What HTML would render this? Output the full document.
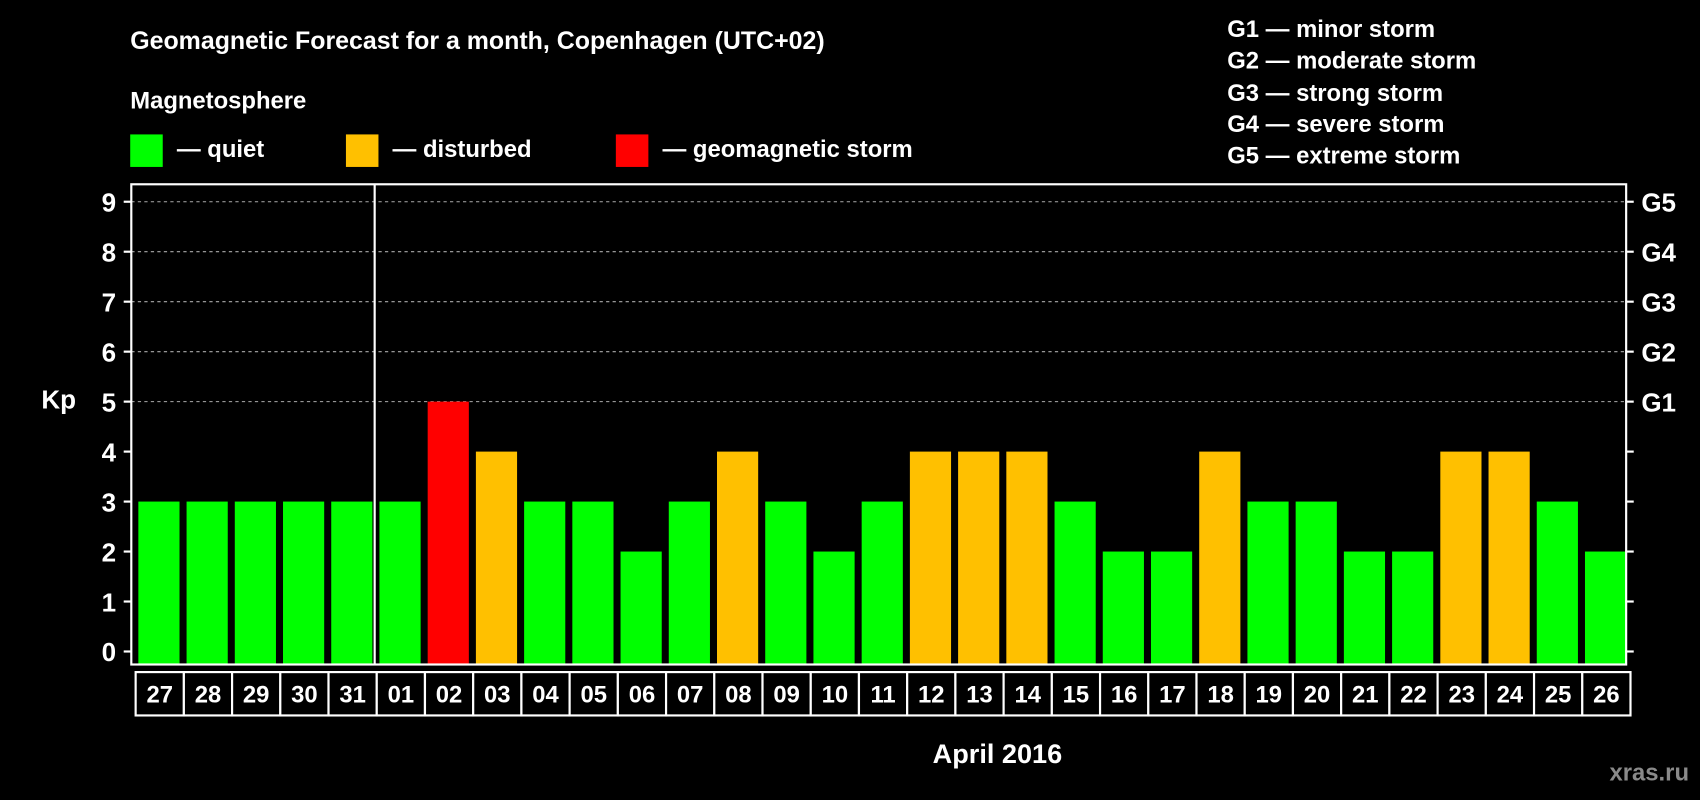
<!DOCTYPE html>
<html><head><meta charset="utf-8"><style>
html,body{margin:0;padding:0;background:#000;width:1700px;height:800px;overflow:hidden}
svg text{font-family:"Liberation Sans",sans-serif;font-weight:bold;fill:#fff}
</style></head><body>
<svg width="1700" height="800" viewBox="0 0 1568 738" xmlns="http://www.w3.org/2000/svg">
<rect width="1568" height="738" fill="#000"/>
<text x="120" y="45" font-size="23">Geomagnetic Forecast for a month, Copenhagen (UTC+02)</text>
<text x="120" y="100" font-size="22">Magnetosphere</text>
<g>
<rect x="120" y="124" width="30" height="30" fill="#00ff00"/>
<text x="163" y="145" font-size="22">— quiet</text>
<rect x="319" y="124" width="30" height="30" fill="#ffc000"/>
<text x="362" y="145" font-size="22">— disturbed</text>
<rect x="568" y="124" width="30" height="30" fill="#ff0000"/>
<text x="611" y="145" font-size="22">— geomagnetic storm</text>
</g>
<g font-size="22">
<text x="1132" y="34">G1 — minor storm</text>
<text x="1132" y="63">G2 — moderate storm</text>
<text x="1132" y="93">G3 — strong storm</text>
<text x="1132" y="122">G4 — severe storm</text>
<text x="1132" y="151">G5 — extreme storm</text>
</g>
<text x="38" y="377" font-size="24">Kp</text>
<text x="920" y="704" font-size="25" text-anchor="middle">April 2016</text>
<text x="1558" y="720" font-size="22" text-anchor="end" fill="#888" style="fill:#8a8a8a">xras.ru</text>
<g id="grid"></g>
<g id="bars"></g>
<g id="labels"></g>
<rect x="121" y="170" width="1379" height="443" fill="none" stroke="#fff" stroke-width="2"/>
<line x1="345.5" y1="170" x2="345.5" y2="613" stroke="#fff" stroke-width="2"/>
</svg>
<script>
const days=["27","28","29","30","31","01","02","03","04","05","06","07","08","09","10","11","12","13","14","15","16","17","18","19","20","21","22","23","24","25","26"];
const kp=[3,3,3,3,3,3,5,4,3,3,2,3,4,3,2,3,4,4,4,3,2,2,4,3,3,2,2,4,4,3,2];
const yTicks=[0,1,2,3,4,5,6,7,8,9];
const gLabels=["G1","G2","G3","G4","G5"];
const NS="http://www.w3.org/2000/svg";
const X0=121,X1=1500,slot=(X1-X0)/days.length;
const y=v=>601-v*46.1;
const x=i=>X0+i*slot;
function mk(t,a,p){const e=document.createElementNS(NS,t);for(const k in a)e.setAttribute(k,a[k]);p.appendChild(e);return e;}
const grid=document.getElementById('grid'),bars=document.getElementById('bars'),labels=document.getElementById('labels');
yTicks.forEach(v=>{
 if(v>=5){const l=mk('line',{x1:X0,x2:X1,y1:y(v),y2:y(v),stroke:'#aaa','stroke-dasharray':'3,3','stroke-width':1},grid);
 
 }
 mk('line',{x1:X0-7,x2:X0,y1:y(v),y2:y(v),stroke:'#fff','stroke-width':2},grid);
 mk('line',{x1:X1,x2:X1+7,y1:y(v),y2:y(v),stroke:'#fff','stroke-width':2},grid);
 const t=mk('text',{x:X0-14,y:y(v)+9,'font-size':24,'text-anchor':'end'},grid);t.textContent=v;
 
 
});
gLabels.forEach((g,i)=>{const t=mk('text',{x:X1+14,y:y(5+i)+9,'font-size':24},grid);t.textContent=g;
 
 });
kp.forEach((v,i)=>{
 const c=v>=5?'#ff0000':v>=4?'#ffc000':'#00ff00';
 const r=mk('rect',{x:x(i)+6.5,y:y(v),width:slot-6.5,height:y(0)-y(v)+12,fill:c},bars);
 
 
 const b=mk('rect',{x:x(i)+4,y:620,width:slot,height:40,fill:'#000',stroke:'#fff','stroke-width':2},labels);
 
 
 const t=mk('text',{x:x(i)+4+slot/2,y:648,'font-size':22,'text-anchor':'middle'},labels);t.textContent=days[i];
 
 
});
</script>
</body></html>
